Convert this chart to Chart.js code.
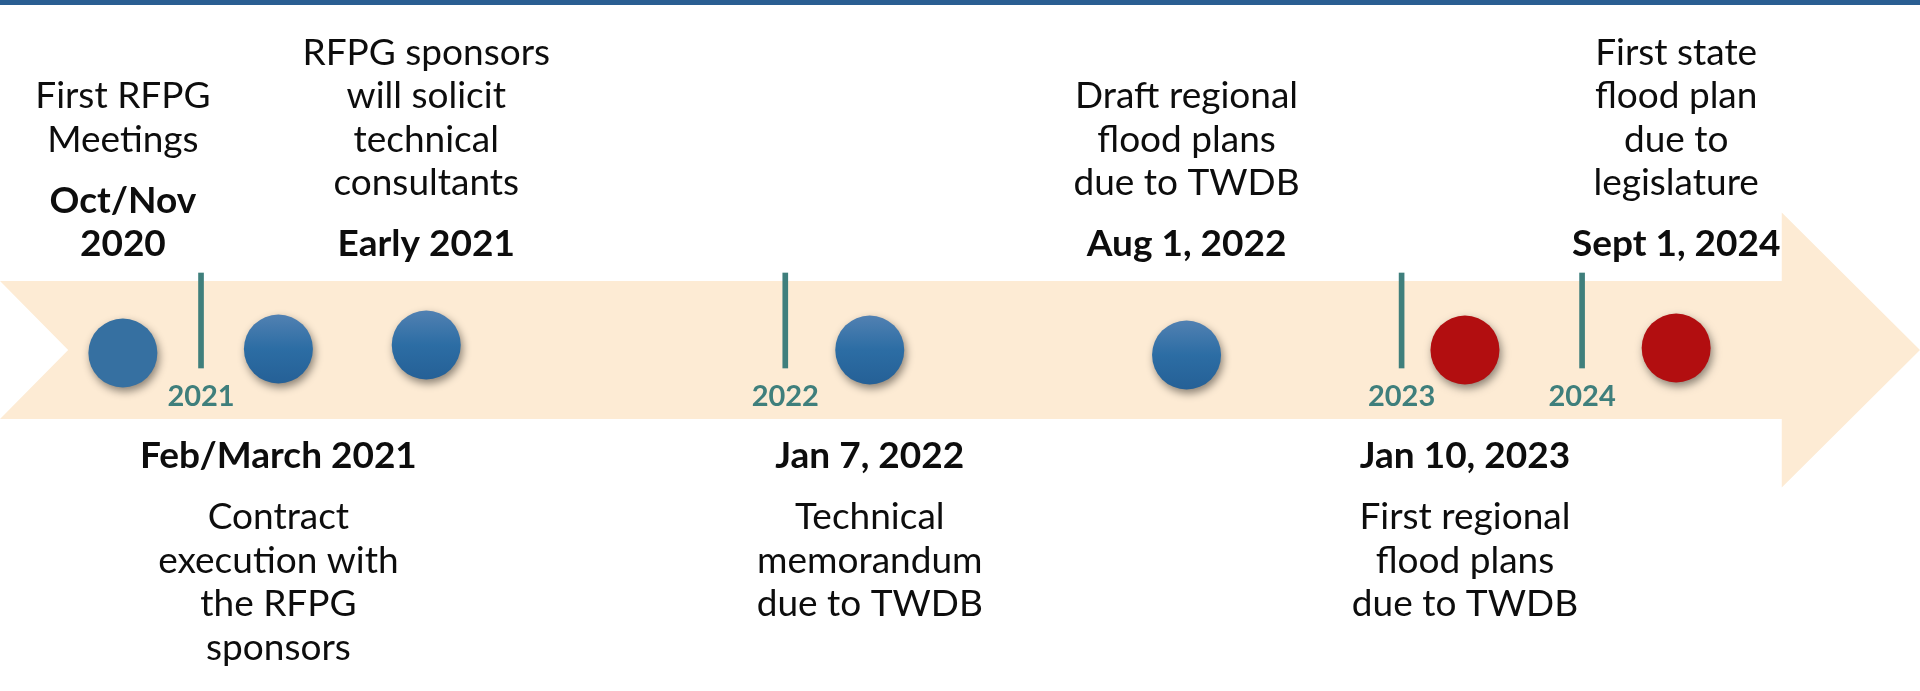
<!DOCTYPE html>
<html>
<head>
<meta charset="utf-8">
<title>Regional flood planning timeline</title>
<script src="https://cdn.jsdelivr.net/npm/chart.js@4/dist/chart.umd.min.js"></script>
<style>
  html, body { margin: 0; padding: 0; background: #fff; overflow: hidden; }
  #wrap { position: relative; width: 1920px; height: 691px; }
</style>
</head>
<body>
<div id="wrap"><canvas id="timeline"></canvas></div>
<script>
// milestone positions along the arrow (0 = left end, 100 = arrow tip)
eventPos = [6.4, 14.5, 22.2, 45.3, 61.8, 76.3, 87.3]
eventLift = [-3, 1, 5, 0, -5, 0, 2]
eventSide = ['above', 'below', 'above', 'below', 'above', 'below', 'above']
eventDue = [false, false, false, false, false, true, true]   // red = plan deliverables
eventDate = [
    ['Oct/Nov', '2020'],
    ['Feb/March 2021'],
    ['Early 2021'],
    ['Jan 7, 2022'],
    ['Aug 1, 2022'],
    ['Jan 10, 2023'],
    ['Sept 1, 2024'],
]
eventText = [
    ['First RFPG', 'Meetings'],
    ['Contract', 'execution with', 'the RFPG', 'sponsors'],
    ['RFPG sponsors', 'will solicit', 'technical', 'consultants'],
    ['Technical', 'memorandum', 'due to TWDB'],
    ['Draft regional', 'flood plans', 'due to TWDB'],
    ['First regional', 'flood plans', 'due to TWDB'],
    ['First state', 'flood plan', 'due to', 'legislature'],
]

// year boundary marks
yearPos = [10.47, 40.9, 73.0, 82.4]
yearLabels = ['2021', '2022', '2023', '2024']
yearLineLow = -18
yearLineHigh = 77

var FONT = 'Lato, "Open Sans", sans-serif';
var TEAL = 'rgb(63,127,124)';

function dotColor(c) {
    var i = c.dataIndex;
    if (eventDue[i]) return 'rgb(178,14,16)';
    if (i === 0) return 'rgb(54,112,161)';
    var chart = c.chart;
    if (!chart.scales.y || !chart.chartArea) return 'rgb(44,108,162)';
    var y = chart.scales.y.getPixelForValue(eventLift[i]);
    var g = chart.ctx.createLinearGradient(0, y - 35, 0, y + 35);
    g.addColorStop(0, 'rgb(82,129,178)');
    g.addColorStop(0.5, 'rgb(44,109,164)');
    g.addColorStop(1, 'rgb(37,96,150)');
    return g;
}

// the peach arrow behind everything + the thin title rule at the top
var arrowPlugin = {
    id: 'arrow',
    beforeDatasetsDraw(chart) {
        var ctx = chart.ctx;
        var xs = chart.scales.x;
        var cy = chart.scales.y.getPixelForValue(0);
        var half = 69, headHalf = 137.5;
        var left = xs.getPixelForValue(0);
        var notch = xs.getPixelForValue(3.55);
        var headStart = xs.getPixelForValue(92.8);
        var tip = xs.getPixelForValue(100);
        ctx.save();
        ctx.fillStyle = 'rgb(253,235,212)';
        ctx.beginPath();
        ctx.moveTo(left, cy - half);
        ctx.lineTo(headStart, cy - half);
        ctx.lineTo(headStart, cy - headHalf);
        ctx.lineTo(tip, cy);
        ctx.lineTo(headStart, cy + headHalf);
        ctx.lineTo(headStart, cy + half);
        ctx.lineTo(left, cy + half);
        ctx.lineTo(notch, cy);
        ctx.closePath();
        ctx.fill();
        ctx.fillStyle = 'rgb(42,94,146)';
        ctx.fillRect(0, 0, chart.width, 5);
        ctx.restore();
    },
    beforeDatasetDraw(chart, args) {
        if (args.index !== 0) return;
        var ctx = chart.ctx;
        ctx.save();
        ctx.shadowColor = 'rgba(0,0,0,0.45)';
        ctx.shadowBlur = 9;
        ctx.shadowOffsetX = 2;
        ctx.shadowOffsetY = 4;
    },
    afterDatasetDraw(chart, args) {
        if (args.index !== 0) return;
        chart.ctx.restore();
    }
};

var labelPlugin = {
    id: 'labels',
    afterDatasetsDraw(chart) {
        var ctx = chart.ctx;
        var xs = chart.scales.x;
        var cy = chart.scales.y.getPixelForValue(0);
        var lineH = 43.5, dateOff = 106, gap = 61, fs = 37;
        ctx.save();
        ctx.textAlign = 'center';
        ctx.textBaseline = 'alphabetic';

        ctx.fillStyle = TEAL;
        ctx.font = 'bold 29px ' + FONT;
        yearLabels.forEach(function (t, i) {
            ctx.fillText(t, xs.getPixelForValue(yearPos[i]), cy + 46 + 10);
        });

        var meta = chart.getDatasetMeta(0);
        ctx.fillStyle = '#0d0d0d';
        eventPos.forEach(function (p, i) {
            var x = meta.data[i].x;
            var dates = eventDate[i], lines = eventText[i];
            var rows = [];
            if (eventSide[i] === 'above') {
                var y = cy - dateOff - (dates.length - 1) * lineH;
                dates.forEach(function (d, k) { rows.push([d, true, y + k * lineH]); });
                var yd = y - gap;
                for (var k = lines.length - 1; k >= 0; k--) {
                    rows.push([lines[k], false, yd - (lines.length - 1 - k) * lineH]);
                }
            } else {
                var y2 = cy + dateOff;
                dates.forEach(function (d, k) { rows.push([d, true, y2 + k * lineH]); });
                var yb = y2 + (dates.length - 1) * lineH + gap;
                lines.forEach(function (l, k) { rows.push([l, false, yb + k * lineH]); });
            }
            rows.forEach(function (r) {
                ctx.font = (r[1] ? 'bold ' : '') + fs + 'px ' + FONT;
                ctx.fillText(r[0], x, r[2] + 12);
            });
        });
        ctx.restore();
    }
};

var ctx = document.getElementById('timeline').getContext('2d');

var myChart = new Chart(ctx, {
    type: 'scatter',
    data: {
        datasets: [
            {
                type: 'scatter',
                label: 'Milestones',
                data: eventPos.map(function (x, i) { return { x: x, y: eventLift[i] }; }),
                backgroundColor: dotColor,
                pointRadius: 34.5,
                pointHoverRadius: 34.5,
                pointBorderWidth: 0,
                borderWidth: 0,
                clip: false,
                order: 1
            },
            {
                type: 'bar',
                label: 'Year marks',
                data: yearPos.map(function (x) { return { x: x, y: [yearLineLow, yearLineHigh] }; }),
                backgroundColor: TEAL,
                barThickness: 5,
                order: 2
            }
        ]
    },
    options: {
        responsive: true,
        maintainAspectRatio: false,
        animation: false,
        events: [],
        layout: { padding: 0, autoPadding: false },
        plugins: {
            legend: { display: false },
            tooltip: { enabled: false }
        },
        scales: {
            x: { type: 'linear', min: 0, max: 100, display: false, offset: false },
            y: { type: 'linear', min: -341, max: 350, display: false }
        }
    },
    plugins: [arrowPlugin, labelPlugin]
});
</script>
</body>
</html>
